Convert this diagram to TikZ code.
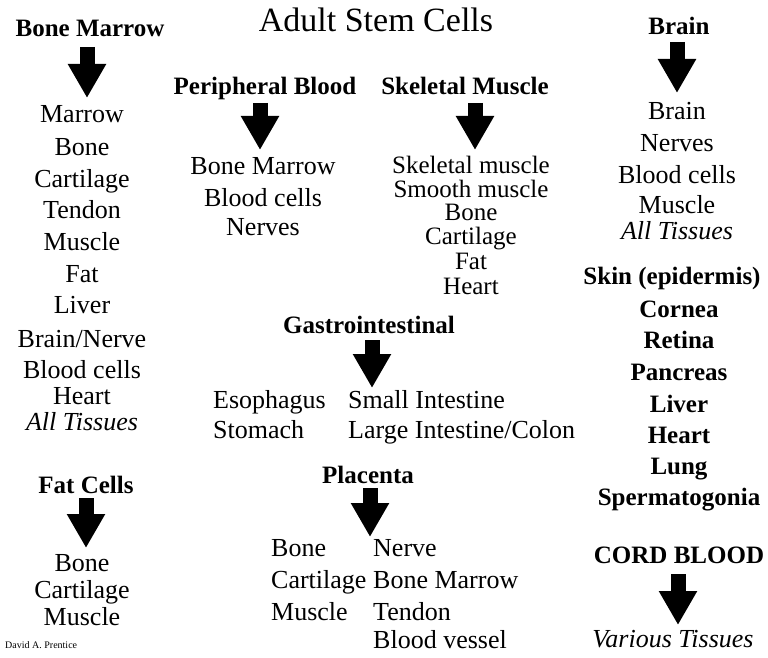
\documentclass[tikz,border=0pt]{standalone}
\usepackage{fontspec}
\setmainfont{Liberation Serif}
\usepackage{tikz}
\usetikzlibrary{arrows.meta,positioning}

\tikzset{
  item/.style={font=\fontsize{26}{30}\selectfont,anchor=base,inner sep=0pt},
  itemw/.style={item,anchor=base west},
  head/.style={font=\fontsize{25}{30}\selectfont\bfseries,anchor=base,inner sep=0pt},
  bigarrow/.style={line width=15pt,-{Triangle[width=36pt,length=34pt]}}
}

\begin{document}
\begin{tikzpicture}[x=1pt,y=-1pt]
  % page frame, pixel grid of the reference (y runs down)
  \useasboundingbox (0,0) rectangle (768,658);
  % --- Title ---
  \node[anchor=base,inner sep=0pt,font=\fontsize{34}{40}\selectfont] (title) at (376,32) {Adult Stem Cells};
  % --- Bone Marrow ---
  \node[head] (hBM) at (90,37) {Bone Marrow};
  \coordinate (tBM) at (87,98);
  \draw[bigarrow] ([yshift=-10pt]hBM.base -| tBM) -- (tBM);
  \foreach \y/\t [count=\i] in {123/Marrow,156/Bone,187/Cartilage,218/Tendon,
      250/Muscle,282/Fat,313/Liver,347/{Brain/Nerve},378/Blood cells,404/Heart,
      430/{\textit{All Tissues}}}
    \node[item] (bm\i) at (82,\y) {\t};
  % --- Peripheral Blood ---
  \node[head] (hPB) at (265,95) {Peripheral Blood};
  \coordinate (tPB) at (260,150);
  \draw[bigarrow] ([yshift=-8pt]hPB.base -| tPB) -- (tPB);
  \foreach \y/\t [count=\i] in {175/Bone Marrow,206/Blood cells,235/Nerves}
    \node[item] (pb\i) at (263,\y) {\t};
  % --- Skeletal Muscle ---
  \node[head] (hSM) at (465,95) {Skeletal Muscle};
  \coordinate (tSM) at (475,150);
  \draw[bigarrow] ([yshift=-8pt]hSM.base -| tSM) -- (tSM);
  \foreach \y/\t [count=\i] in {173/Skeletal muscle,197/Smooth muscle,220/Bone,
      244/Cartilage,269/Fat,294/Heart}
    \node[item,font=\fontsize{25}{28}\selectfont] (sm\i) at (471,\y) {\t};
  % --- Brain ---
  \node[head] (hBr) at (679,35) {Brain};
  \coordinate (tBr) at (677,93);
  \draw[bigarrow] ([yshift=-7pt]hBr.base -| tBr) -- (tBr);
  \foreach \y/\t [count=\i] in {120/Brain,151/Nerves,183/Blood cells,213/Muscle,
      239/{\textit{All Tissues}}}
    \node[item] (br\i) at (677,\y) {\t};
  % bold list, right column
  \node[head] (sk1) at (672,284) {Skin (epidermis)};
  \foreach \y/\t [count=\i from 2] in {317/Cornea,348/Retina,
      380/Pancreas,412/Liver,443/Heart,474/Lung,505/Spermatogonia}
    \node[head] (sk\i) at (679,\y) {\t};
  % --- Cord Blood ---
  \node[head] (hCB) at (679,563) {CORD BLOOD};
  \coordinate (tCB) at (678,625);
  \draw[bigarrow] ([yshift=-11pt]hCB.base -| tCB) -- (tCB);
  \node[item] (cb1) at (673,647) {\textit{Various Tissues}};
  % --- Gastrointestinal ---
  \node[head] (hGI) at (369,333) {Gastrointestinal};
  \coordinate (tGI) at (372,388);
  \draw[bigarrow] ([yshift=-7pt]hGI.base -| tGI) -- (tGI);
  \node[itemw] (gi1) at (213,408) {Esophagus};
  \node[itemw] (gi2) at (213,438) {Stomach};
  \node[itemw] (gi3) at (348,408) {Small Intestine};
  \node[itemw] (gi4) at (348,438) {Large Intestine/Colon};
  % --- Placenta ---
  \node[head] (hPl) at (368,483) {Placenta};
  \coordinate (tPl) at (370,537);
  \draw[bigarrow] ([yshift=-5pt]hPl.base -| tPl) -- (tPl);
  \foreach \y/\t [count=\i] in {556/Bone,588/Cartilage,620/Muscle}
    \node[itemw] (pl\i) at (271,\y) {\t};
  \foreach \y/\t [count=\i] in {556/Nerve,588/Bone Marrow,620/Tendon,648/Blood vessel}
    \node[itemw] (pr\i) at (373,\y) {\t};
  % --- Fat Cells ---
  \node[head] (hFC) at (86,493) {Fat Cells};
  \coordinate (tFC) at (86,548);
  \draw[bigarrow] ([yshift=-5pt]hFC.base -| tFC) -- (tFC);
  \foreach \y/\t [count=\i] in {571/Bone,598/Cartilage,625/Muscle}
    \node[item] (fc\i) at (82,\y) {\t};
  % signature
  \node[anchor=base west,inner sep=0pt,font=\fontsize{10}{12}\selectfont] (sig) at (5,648) {David A. Prentice};
\end{tikzpicture}
\end{document}
